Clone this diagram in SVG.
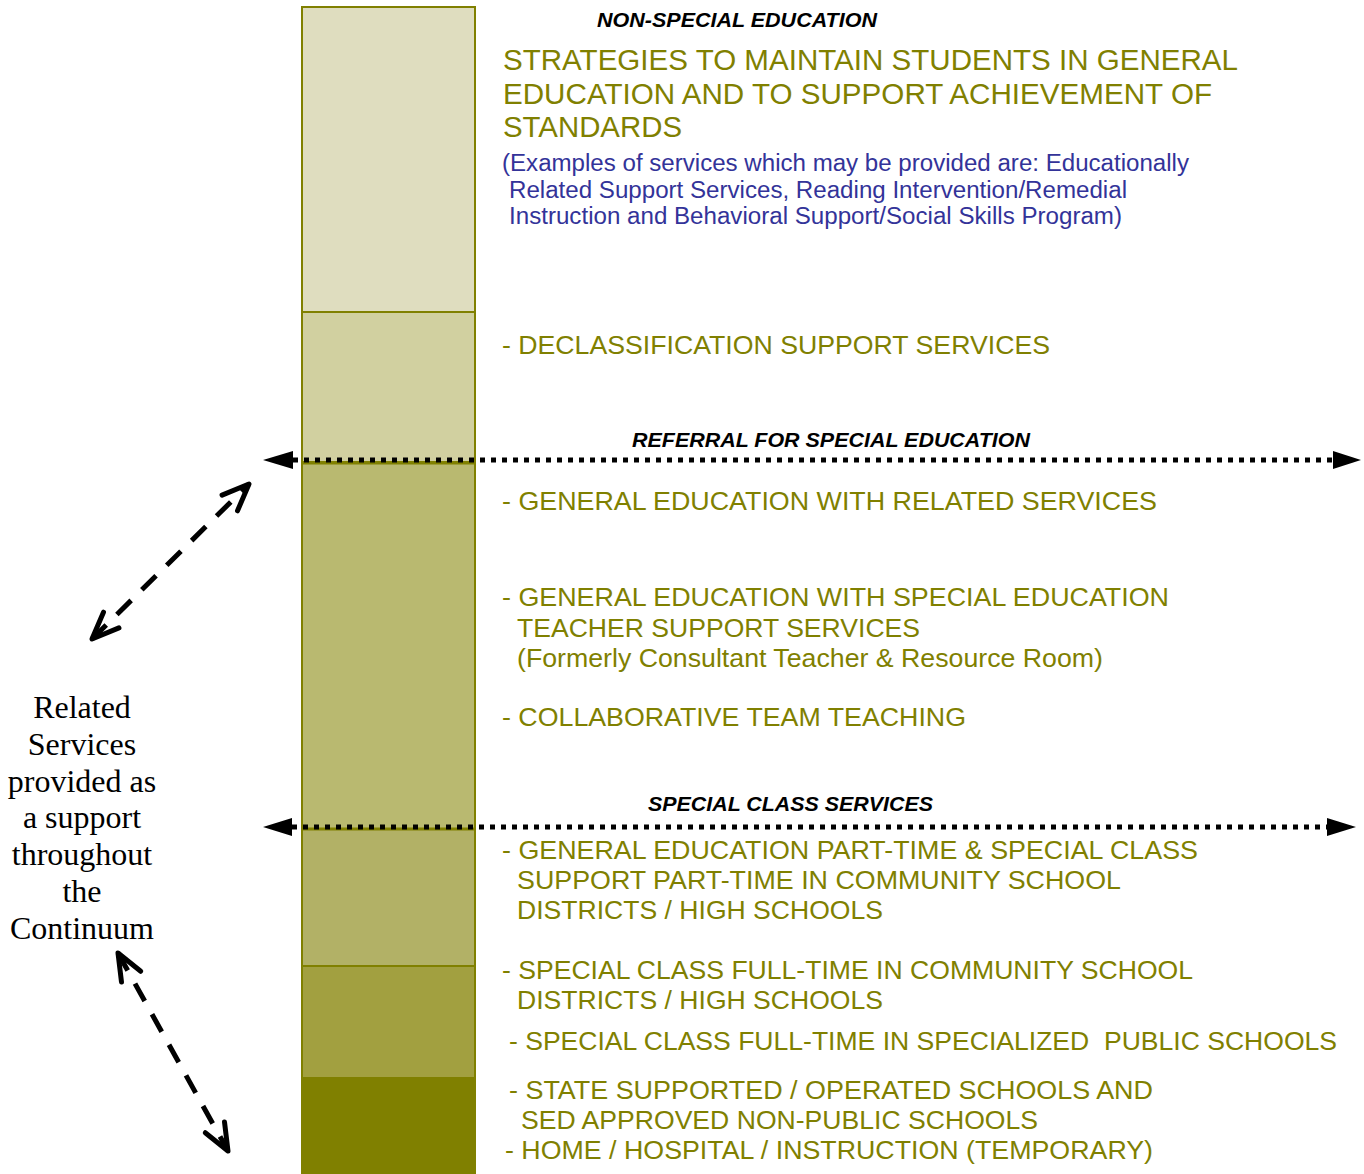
<svg xmlns="http://www.w3.org/2000/svg" width="1364" height="1174" viewBox="0 0 1364 1174">
<style>
.o{font-family:"Liberation Sans",Arial,sans-serif;font-size:26.5px;fill:#808000}
.h{font-family:"Liberation Sans",Arial,sans-serif;font-size:29px;fill:#808000}
.b{font-family:"Liberation Sans",Arial,sans-serif;font-size:23px;fill:#333399}
.t{font-family:"Liberation Sans",Arial,sans-serif;font-size:21px;font-weight:bold;font-style:italic;fill:#000}
.s{font-family:"Liberation Serif","Times New Roman",serif;font-size:32px;fill:#000;text-anchor:middle}
.seg{stroke:#808000;stroke-width:2}
.dot{stroke:#000;stroke-width:5;stroke-dasharray:5 6;fill:none}
.dash{stroke:#000;stroke-width:5;stroke-dasharray:20 15;fill:none;marker-start:url(#v);marker-end:url(#v)}
</style>
<defs>
<marker id="v" markerUnits="userSpaceOnUse" orient="auto-start-reverse" markerWidth="40" markerHeight="40" viewBox="-30 -20 40 40" refX="0" refY="0" overflow="visible">
<path d="M-27,-11 L0,0 L-27,11" fill="none" stroke="#000" stroke-width="5" stroke-linecap="round" stroke-linejoin="round"/>
</marker>
</defs>
<g id="bar">
<rect class="seg" x="302" y="7" width="173" height="305" fill="#DFDDBF"/>
<rect class="seg" x="302" y="312" width="173" height="150" fill="#D1D0A0"/>
<rect class="seg" x="302" y="462" width="173" height="367" fill="#B9B970"/>
<rect class="seg" x="302" y="829" width="173" height="137" fill="#B2B166"/>
<rect class="seg" x="302" y="966" width="173" height="112" fill="#A2A040"/>
<rect x="301" y="1078" width="175" height="100" fill="#808000"/>
<line x1="302" y1="463" x2="475" y2="463" stroke="#808000" stroke-width="3"/>
<line x1="302" y1="829" x2="475" y2="829" stroke="#808000" stroke-width="3"/>
</g>
<g id="connectors">
<line class="dot" x1="293" y1="460" x2="1333" y2="460"/>
<polygon points="263,460 293,451 293,469" fill="#000"/>
<polygon points="1361,460 1333,451 1333,469" fill="#000"/>
<line class="dot" x1="292" y1="827" x2="1327" y2="827"/>
<polygon points="263,827 292,818 292,836" fill="#000"/>
<polygon points="1356,827 1327,818 1327,836" fill="#000"/>
<path class="dash" d="M92,639 L249,484"/>
<path class="dash" d="M118,953 L228,1151"/>
</g>
<g id="left-label">
<text class="s" x="82" y="718">Related</text>
<text class="s" x="82" y="755">Services</text>
<text class="s" x="82" y="792">provided as</text>
<text class="s" x="82" y="828">a support</text>
<text class="s" x="82" y="865">throughout</text>
<text class="s" x="82" y="902">the</text>
<text class="s" x="82" y="939">Continuum</text>
</g>
<g id="non-special">
<text class="t" x="597" y="27" textLength="280" lengthAdjust="spacingAndGlyphs">NON-SPECIAL EDUCATION</text>
<text class="h" x="503" y="70" textLength="735" lengthAdjust="spacingAndGlyphs">STRATEGIES TO MAINTAIN STUDENTS IN GENERAL</text>
<text class="h" x="503" y="104" textLength="709" lengthAdjust="spacingAndGlyphs">EDUCATION AND TO SUPPORT ACHIEVEMENT OF</text>
<text class="h" x="503" y="137" textLength="179" lengthAdjust="spacingAndGlyphs">STANDARDS</text>
<text class="b" x="502" y="171" textLength="687" lengthAdjust="spacingAndGlyphs">(Examples of services which may be provided are: Educationally</text>
<text class="b" x="509" y="198" textLength="618" lengthAdjust="spacingAndGlyphs">Related Support Services, Reading Intervention/Remedial</text>
<text class="b" x="509" y="224" textLength="613" lengthAdjust="spacingAndGlyphs">Instruction and Behavioral Support/Social Skills Program)</text>
<text class="o" x="502" y="354" textLength="548" lengthAdjust="spacingAndGlyphs">- DECLASSIFICATION SUPPORT SERVICES</text>
</g>
<g id="referral">
<text class="t" x="632" y="447" textLength="398" lengthAdjust="spacingAndGlyphs">REFERRAL FOR SPECIAL EDUCATION</text>
<text class="o" x="502" y="510" textLength="655" lengthAdjust="spacingAndGlyphs">- GENERAL EDUCATION WITH RELATED SERVICES</text>
<text class="o" x="502" y="606" textLength="667" lengthAdjust="spacingAndGlyphs">- GENERAL EDUCATION WITH SPECIAL EDUCATION</text>
<text class="o" x="517" y="637" textLength="403" lengthAdjust="spacingAndGlyphs">TEACHER SUPPORT SERVICES</text>
<text class="o" x="517" y="667" textLength="586" lengthAdjust="spacingAndGlyphs">(Formerly Consultant Teacher &amp; Resource Room)</text>
<text class="o" x="502" y="726" textLength="464" lengthAdjust="spacingAndGlyphs">- COLLABORATIVE TEAM TEACHING</text>
</g>
<g id="special-class">
<text class="t" x="648" y="811" textLength="285" lengthAdjust="spacingAndGlyphs">SPECIAL CLASS SERVICES</text>
<text class="o" x="502" y="859" textLength="696" lengthAdjust="spacingAndGlyphs">- GENERAL EDUCATION PART-TIME &amp; SPECIAL CLASS</text>
<text class="o" x="517" y="889" textLength="604" lengthAdjust="spacingAndGlyphs">SUPPORT PART-TIME IN COMMUNITY SCHOOL</text>
<text class="o" x="517" y="919" textLength="366" lengthAdjust="spacingAndGlyphs">DISTRICTS / HIGH SCHOOLS</text>
<text class="o" x="502" y="979" textLength="691" lengthAdjust="spacingAndGlyphs">- SPECIAL CLASS FULL-TIME IN COMMUNITY SCHOOL</text>
<text class="o" x="517" y="1009" textLength="366" lengthAdjust="spacingAndGlyphs">DISTRICTS / HIGH SCHOOLS</text>
<text class="o" x="509" y="1050" textLength="828" lengthAdjust="spacingAndGlyphs">- SPECIAL CLASS FULL-TIME IN SPECIALIZED&#160; PUBLIC SCHOOLS</text>
<text class="o" x="509" y="1099" textLength="644" lengthAdjust="spacingAndGlyphs">- STATE SUPPORTED / OPERATED SCHOOLS AND</text>
<text class="o" x="521" y="1129" textLength="517" lengthAdjust="spacingAndGlyphs">SED APPROVED NON-PUBLIC SCHOOLS</text>
<text class="o" x="505" y="1159" textLength="648" lengthAdjust="spacingAndGlyphs">- HOME / HOSPITAL / INSTRUCTION (TEMPORARY)</text>
</g>
</svg>
